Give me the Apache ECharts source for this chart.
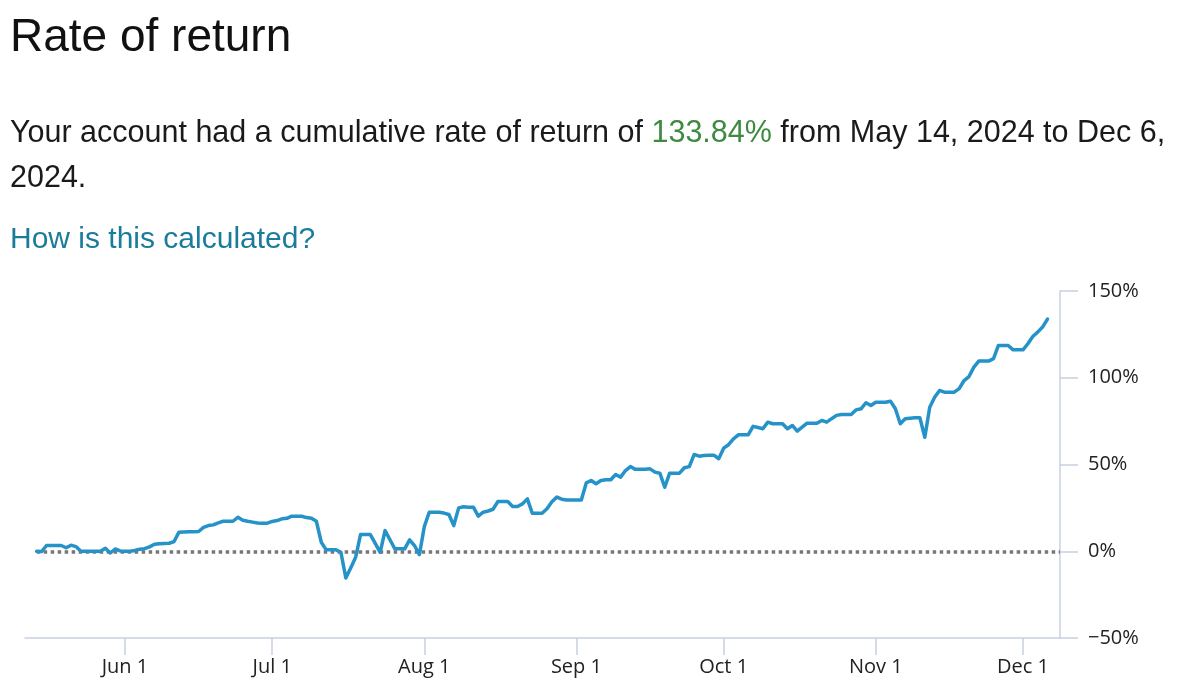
<!DOCTYPE html>
<html>
<head>
<meta charset="utf-8">
<script src="https://cdn.jsdelivr.net/npm/echarts@6/dist/echarts.min.js"></script>
<style>
  html, body { margin: 0; padding: 0; background: #fff; }
  body { width: 1200px; height: 699px; position: relative; overflow: hidden; font-family: "Liberation Sans", Arial, sans-serif; }
  #title { position: absolute; left: 10px; top: 12px; font-size: 46px; line-height: 46px; color: #111; white-space: nowrap; }
  #summary { position: absolute; left: 10px; top: 109px; width: 1185px; font-size: 30.5px; line-height: 45px; color: #1a1a1a; white-space: nowrap; }
  #summary .pos { color: #3d8a40; }
  #how { position: absolute; left: 10px; top: 223px; font-size: 30px; line-height: 30px; color: #1b7b9b; white-space: nowrap; }
  #chart { position: absolute; left: 0; top: 0; width: 1200px; height: 699px; }
</style>
</head>
<body>
<div id="chart"></div>
<div id="title">Rate of return</div>
<div id="summary"><span>Your account had a cumulative rate of return of </span><span class="pos">133.84%</span><span> from May 14, 2024 to Dec 6,</span><br><span>2024.</span></div>
<div id="how">How is this calculated?</div>
<script>
// Cumulative rate of return (%), one value per calendar day (weekends/holidays carry the last value)
const may = [0.0, -0.2, 3.3, 3.3, 3.3, 3.3, 2.0, 3.5, 2.7, 0.0, 0.0, 0.0, 0.0, 0.0, 1.7, -1.0, 1.3, 0.2]; // from May 14
const jun = [0.0, 0.0, 0.4, 1.2, 1.5, 2.5, 4.0, 4.3, 4.5, 4.6, 5.6, 11.0, 11.1, 11.2, 11.3, 11.4, 13.8, 14.8, 15.2, 16.4,
             17.3, 17.3, 17.3, 19.6, 17.9, 17.3, 16.8, 16.3, 16.1, 16.2];
const jul = [17.2, 17.7, 18.7, 19.0, 20.2, 20.2, 20.2, 19.4, 19.0, 17.3, 5.2, 0.8, 0.8, 0.8, -0.6, -15.4, -9.6, -3.5, 9.6, 9.6,
             9.6, 4.5, -0.6, 11.9, 6.6, 1.4, 1.4, 1.4, 6.6, 3.3, -1.9];
const aug = [14.2, 22.5, 22.5, 22.5, 22.0, 21.2, 14.8, 25.0, 25.6, 25.4, 25.4, 20.2, 22.5, 23.2, 24.2, 28.7, 28.7, 28.7, 25.8, 25.8,
             27.3, 30.2, 21.9, 21.9, 21.9, 24.5, 28.5, 31.2, 30.0, 29.6, 29.6];
const sep = [29.6, 29.6, 39.4, 40.8, 38.9, 40.8, 41.2, 41.2, 44.2, 42.7, 46.5, 48.8, 47.2, 47.2, 47.3, 47.5, 45.6, 45.0, 36.9, 45.0,
             45.0, 45.0, 48.1, 48.8, 55.8, 54.8, 55.2, 55.4, 55.4, 53.3];
const oct = [59.4, 61.4, 64.8, 67.1, 67.1, 67.1, 72.0, 71.3, 70.6, 74.4, 73.5, 73.5, 73.5, 70.6, 72.5, 69.2, 71.5, 73.8, 73.8, 73.8,
             75.4, 74.4, 76.4, 78.3, 78.8, 78.8, 78.8, 81.5, 82.1, 85.6, 84.0];
const nov = [85.9, 85.9, 85.9, 86.5, 82.1, 73.5, 76.4, 76.7, 76.9, 76.9, 65.7, 83.0, 88.8, 92.7, 91.7, 91.7, 91.7, 93.7, 98.4, 100.7,
             106.1, 109.6, 109.6, 109.6, 111.0, 118.6, 118.6, 118.6, 116.1, 116.1];
const dec = [116.1, 119.6, 123.8, 126.3, 129.2, 133.84];

const monthSeries = [
  { month: 4, firstDay: 14, values: may },
  { month: 5, firstDay: 1, values: jun },
  { month: 6, firstDay: 1, values: jul },
  { month: 7, firstDay: 1, values: aug },
  { month: 8, firstDay: 1, values: sep },
  { month: 9, firstDay: 1, values: oct },
  { month: 10, firstDay: 1, values: nov },
  { month: 11, firstDay: 1, values: dec }
];

const xTickMonths = [5, 6, 7, 8, 9, 10, 11];
const xTickLabels = ['Jun 1', 'Jul 1', 'Aug 1', 'Sep 1', 'Oct 1', 'Nov 1', 'Dec 1'];

const DAY = 86400000;
const data = [];
monthSeries.forEach(function (m) {
  m.values.forEach(function (v, i) {
    data.push([Date.UTC(2024, m.month, m.firstDay + i), v]);
  });
});
const xTicks = xTickMonths.map(function (m) { return Date.UTC(2024, m, 1); });
const jun1 = Date.UTC(2024, 5, 1);
const xMin = jun1 - 20.38 * DAY;
const xMax = jun1 + 190.55 * DAY;

const axisColor = '#c8d0e2';
const labelFont = { fontFamily: '"Open Sans", sans-serif', fontSize: 20, color: '#222' };

const chart = echarts.init(document.getElementById('chart'), null, { renderer: 'canvas' });
chart.setOption({
  animation: false,
  grid: { left: 25, right: 140, top: 291, bottom: 61, containLabel: false },
  xAxis: {
    type: 'value',
    min: xMin,
    max: xMax,
    axisLine: { show: true, onZero: false, lineStyle: { color: axisColor, width: 1.5 } },
    axisTick: { show: true, length: 17, customValues: xTicks, lineStyle: { color: axisColor, width: 1.5 } },
    axisLabel: Object.assign({
      customValues: xTicks,
      margin: 19,
      formatter: function (v) {
        const idx = xTicks.indexOf(v);
        return idx >= 0 ? xTickLabels[idx] : '';
      }
    }, labelFont),
    splitLine: { show: false }
  },
  yAxis: {
    type: 'value',
    position: 'right',
    min: -50,
    max: 150,
    interval: 50,
    axisLine: { show: true, onZero: false, lineStyle: { color: axisColor, width: 1.5 } },
    axisTick: { show: true, length: 18, lineStyle: { color: axisColor, width: 1.5 } },
    axisLabel: Object.assign({
      margin: 28,
      formatter: function (v) {
        return (v < 0 ? '\u2212' + Math.abs(v) : v) + '%';
      }
    }, labelFont),
    splitLine: { show: false }
  },
  series: [{
    type: 'line',
    data: data,
    showSymbol: false,
    symbol: 'none',
    z: 5,
    lineStyle: { color: '#2592c8', width: 3.5, join: 'round', cap: 'round' },
    markLine: {
      silent: true,
      symbol: 'none',
      z: 1,
      label: { show: false },
      lineStyle: { color: '#777', width: 3.5, type: [3.5, 3.5] },
      data: [[{ coord: [data[0][0], 0] }, { coord: [xMax, 0] }]]
    }
  }]
});
</script>
</body>
</html>
